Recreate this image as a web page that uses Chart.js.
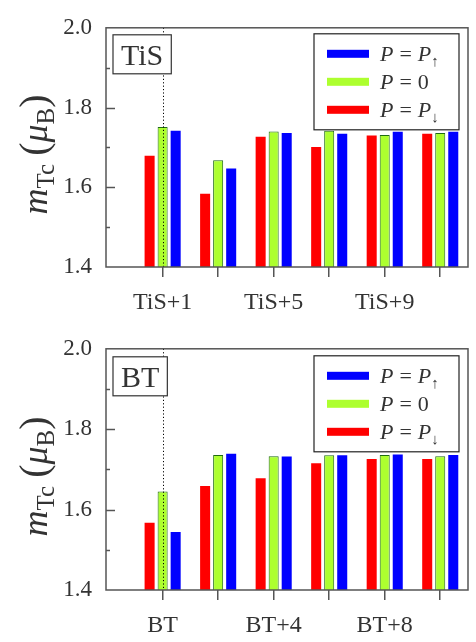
<!DOCTYPE html>
<html>
<head>
<meta charset="utf-8">
<script src="https://cdn.jsdelivr.net/npm/chart.js@4"></script>
<style>
  body { margin: 0; background: #fff; }
  canvas { display: block; }
</style>
</head>
<body>
<canvas id="tis" width="476" height="321"></canvas>
<canvas id="bt" width="476" height="321"></canvas>
<script>
// tick labels (empty = unlabelled tick)
const tisTicks = ['TiS+1', '', 'TiS+5', '', 'TiS+9', ''];
const btTicks = ['BT', '', 'BT+4', '', 'BT+8', ''];
const yLabels = ['1.4', '1.6', '1.8', '2.0'];

// m_Tc values
const tisDown = [1.679, 1.584, 1.727, 1.701, 1.730, 1.734];
const tisZero = [1.751, 1.668, 1.740, 1.742, 1.731, 1.736];
const tisUp   = [1.742, 1.647, 1.736, 1.734, 1.739, 1.739];

const btDown = [1.567, 1.659, 1.678, 1.715, 1.726, 1.726];
const btZero = [1.645, 1.736, 1.733, 1.735, 1.736, 1.733];
const btUp   = [1.544, 1.739, 1.732, 1.735, 1.737, 1.736];

const serif = '"Liberation Serif", "DejaVu Serif", serif';
Chart.defaults.font.family = serif;
Chart.defaults.color = '#333';

// draws a run of text pieces (italic / subscript), returns width
function mathRun(ctx, parts, x, y, draw) {
  let w = 0;
  parts.forEach(p => {
    ctx.font = (p.i ? 'italic ' : '') + p.s + 'px ' + serif;
    w += p.gl || 0;
    if (draw) ctx.fillText(p.t, x + w, y + (p.dy || 0));
    w += ctx.measureText(p.t).width + (p.gr || 0);
  });
  return w;
}

function legendParts(label) {
  const [l, r] = label.split(' = ');
  const parts = [{t: l, s: 22, i: true}, {t: '=', s: 22, gl: 6, gr: 6}];
  if (r[0] === 'P') {
    parts.push({t: 'P', s: 22, i: true}, {t: r.slice(1), s: 15, dy: 5});
  } else {
    parts.push({t: r, s: 22});
  }
  return parts;
}

const yTitle = [
  {t: 'm', s: 36, i: true}, {t: 'Tc', s: 25, dy: 7, gr: 8},
  {t: '(', s: 40}, {t: 'μ', s: 36, i: true}, {t: 'B', s: 25, dy: 7}, {t: ')', s: 40}
];

const decor = {
  id: 'decor',
  afterDatasetsDraw(chart, args, opts) {
    const {ctx, chartArea: a, scales: {x, y}} = chart;
    ctx.save();

    // dotted line through the reference group
    const px = Math.round(x.getPixelForValue(0)) + 0.5;
    ctx.setLineDash([1.2, 2.2]);
    ctx.strokeStyle = '#000';
    ctx.lineWidth = 1;
    ctx.beginPath();
    ctx.moveTo(px, a.top);
    ctx.lineTo(px, a.bottom);
    ctx.stroke();
    ctx.setLineDash([]);

    // frame
    ctx.strokeStyle = '#555';
    ctx.lineWidth = 1.5;
    ctx.strokeRect(a.left, a.top, a.right - a.left, a.bottom - a.top);

    // inward y ticks
    y.ticks.forEach(t => {
      if (t.value <= y.min + 1e-6 || t.value >= y.max - 1e-6) return;
      const py = Math.round(y.getPixelForValue(t.value)) + 0.5;
      ctx.beginPath();
      ctx.moveTo(a.left, py);
      ctx.lineTo(a.left + (t.label ? 9 : 4), py);
      ctx.stroke();
    });

    // panel tag
    ctx.font = '30px ' + serif;
    const tw = ctx.measureText(opts.tag).width;
    const bw = tw + 16, bh = 39;
    const bx = a.left + 7, by = a.top + opts.tagTop;
    ctx.fillStyle = '#fff';
    ctx.fillRect(bx, by, bw, bh);
    ctx.strokeStyle = '#333';
    ctx.lineWidth = 1.2;
    ctx.strokeRect(bx, by, bw, bh);
    ctx.fillStyle = '#333';
    ctx.textBaseline = 'alphabetic';
    ctx.fillText(opts.tag, bx + 8, by + 30);

    // legend
    const lw = 145, lh = 96;
    const lx = a.right - 9 - lw, ly = a.top + opts.legTop;
    ctx.fillStyle = '#fff';
    ctx.fillRect(lx, ly, lw, lh);
    ctx.strokeStyle = '#222';
    ctx.strokeRect(lx, ly, lw, lh);
    chart.data.datasets.slice().reverse().forEach((ds, i) => {
      const cy = ly + 20 + 28 * i;
      ctx.fillStyle = ds.backgroundColor;
      ctx.fillRect(lx + 13, cy - 4, 42, 8);
      ctx.fillStyle = '#333';
      mathRun(ctx, legendParts(ds.label), lx + 66, cy + 7, true);
    });

    // y axis title
    const w = mathRun(ctx, yTitle, 0, 0, false);
    ctx.translate(47, (a.top + a.bottom) / 2 + 7);
    ctx.rotate(-Math.PI / 2);
    ctx.fillStyle = '#333';
    mathRun(ctx, yTitle, -w / 2, 0, true);

    ctx.restore();
  }
};

function makeChart(id, ticks, down, zero, up, tag, top, axisH, tagTop, legTop) {
  const pts = arr => arr.map((v, i) => ({x: i, y: v}));
  const bar = {categoryPercentage: 0.704, barPercentage: 0.77, borderWidth: 0};
  return new Chart(document.getElementById(id), {
    type: 'bar',
    data: {
      datasets: [
        {...bar, label: 'P = P↓', data: pts(down), backgroundColor: '#ff0000'},
        {...bar, label: 'P = 0', data: pts(zero), backgroundColor: '#adff2f', borderColor: '#1f6b12', borderWidth: 1},
        {...bar, label: 'P = P↑', data: pts(up), backgroundColor: '#0000ff'}
      ]
    },
    options: {
      responsive: false,
      animation: false,
      layout: {padding: {top: top, right: 8, left: 0, bottom: 0}},
      plugins: {
        legend: {display: false},
        tooltip: {enabled: false},
        decor: {tag: tag, tagTop: tagTop, legTop: legTop}
      },
      scales: {
        x: {
          type: 'linear',
          min: -1.02,
          max: 5.5,
          offset: false,
          afterBuildTicks: s => { s.ticks = ticks.map((_, i) => ({value: i})); },
          afterFit: s => { s.height = axisH; },
          ticks: {
            autoSkip: false,
            maxRotation: 0,
            padding: 11,
            font: {family: serif, size: 24},
            callback: v => ticks[v] ?? ''
          },
          grid: {offset: false, drawOnChartArea: false, tickLength: 10, color: '#555', lineWidth: 1.5},
          border: {display: false}
        },
        y: {
          min: 1.4,
          max: 2.0,
          afterFit: s => { s.width = 106; },
          ticks: {
            stepSize: 0.1,
            padding: 14,
            font: {family: serif, size: 23},
            callback: v => {
              const s = v.toFixed(1);
              return yLabels.includes(s) ? s : '';
            }
          },
          grid: {display: false, drawTicks: false},
          border: {display: false}
        }
      }
    },
    plugins: [decor]
  });
}

makeChart('tis', tisTicks, tisDown, tisZero, tisUp, 'TiS', 13, 54, 7, 6);
makeChart('bt', btTicks, btDown, btZero, btUp, 'BT', 14, 52, 8, 7);
</script>
</body>
</html>
